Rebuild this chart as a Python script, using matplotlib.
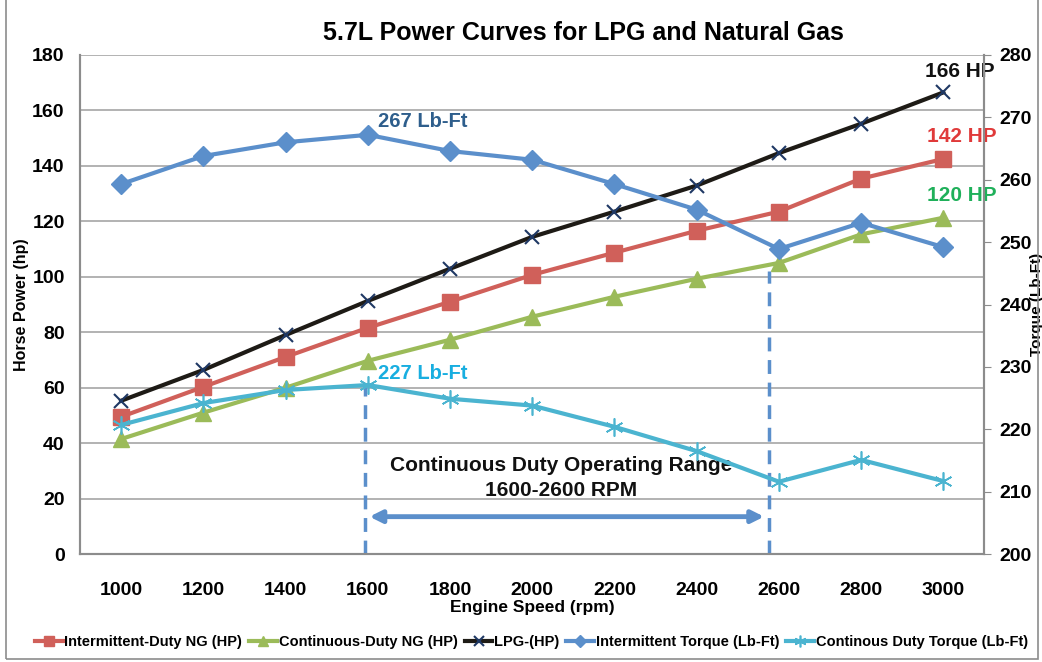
import numpy as np
import matplotlib.pyplot as plt
from matplotlib.patches import Rectangle

plt.rcParams['font.family'] = ['Liberation Sans', 'DejaVu Sans']
plt.rcParams['font.weight'] = 'bold'

# data
rpm = [1000, 1200, 1400, 1600, 1800, 2000, 2200, 2400, 2600, 2800, 3000]
ng_int_hp = [49.5, 60.3, 71.1, 81.6, 91.0, 100.7, 108.7, 116.6, 123.5, 135.4, 142.5]
ng_cont_hp = [41.5, 51.0, 60.0, 69.7, 77.3, 85.6, 92.8, 99.3, 105.0, 115.3, 121.3]
lpg_hp = [55.3, 66.4, 79.0, 91.3, 102.9, 114.4, 123.5, 132.9, 144.6, 155.2, 166.5]
torque_int = [259.3, 263.8, 266.0, 267.2, 264.6, 263.2, 259.3, 255.2, 248.9, 253.1, 249.2]
torque_cont = [220.7, 224.2, 226.3, 227.1, 224.9, 223.8, 220.4, 216.5, 211.6, 215.1, 211.7]

c_red = '#D0605A'
c_green = '#9BBB59'
c_black = '#1E1B16'
c_blue = '#5B8FCB'
c_cyan = '#4BB4D0'

fig = plt.figure(figsize=(10.42, 6.62), dpi=100)
fig.patches.append(Rectangle((0.006, 0.004), 0.99, 1.2, transform=fig.transFigure,
                             fill=False, edgecolor='#8C8C8C', lw=1.2))
ax = fig.add_axes([0.0768, 0.163, 0.868, 0.754])
ax2 = ax.twinx()

x = np.arange(len(rpm))

ax.plot(x, ng_int_hp, color=c_red, lw=3, marker='s', ms=12, zorder=4,
        label='Intermittent-Duty NG (HP)')
ax.plot(x, ng_cont_hp, color=c_green, lw=3, marker='^', ms=12, zorder=3,
        label='Continuous-Duty NG (HP)')
ax.plot(x, lpg_hp, color=c_black, lw=3, marker='x', ms=10, mew=1.5, mec='#1F3864',
        zorder=5, label='LPG-(HP)')
ax2.plot(x, torque_int, color=c_blue, lw=3, marker='D', ms=10, zorder=4,
         label='Intermittent Torque (Lb-Ft)')
ax2.plot(x, torque_cont, color=c_cyan, lw=3, marker=(6, 2, 0), ms=13, mew=1.2,
         zorder=4, label='Continous Duty Torque (Lb-Ft)')

ax.set_xlim(-0.5, len(rpm) - 0.5)
ax.set_ylim(0, 180)
ax.set_yticks(range(0, 181, 20))
ax2.set_ylim(200, 280)
ax2.set_yticks(range(200, 281, 10))
ax.set_xticks(x)
ax.set_xticklabels([str(r) for r in rpm])
ax.grid(axis='y', color='#A6A6A6', lw=1.2)
ax.set_axisbelow(True)

for a in (ax, ax2):
    a.spines['top'].set_visible(False)
    for s in ('left', 'right', 'bottom'):
        a.spines[s].set_color('#8C8C8C')
        a.spines[s].set_linewidth(1.5)
ax.tick_params(axis='y', labelsize=14, length=0, pad=11)
ax.tick_params(axis='x', labelsize=14, length=0, pad=20)
ax2.tick_params(axis='y', labelsize=14, length=5, color='#8C8C8C', pad=6)

ax.set_xlabel('Engine Speed (rpm)', fontsize=12.5, fontweight='bold', labelpad=1)
ax.set_ylabel('Horse Power (hp)', fontsize=11.5, fontweight='bold', labelpad=2)
ax2.set_ylabel('Torque (Lb-Ft)', fontsize=11, fontweight='bold',
               rotation=90, va='center')
ax2.yaxis.set_label_coords(1.058, 0.5)
fig.text(0.56, 0.95, '5.7L Power Curves for LPG and Natural Gas', fontsize=18,
         fontweight='bold', ha='center', va='center')

# operating range markers
i1600 = rpm.index(1600)
i2600 = rpm.index(2600)
ax2.plot([i1600 - 0.04, i1600 - 0.04], [200, torque_cont[i1600]], color=c_blue,
         lw=2.5, ls=(0, (4, 2.5)), zorder=2)
ax.plot([i2600 - 0.12, i2600 - 0.12], [0, ng_cont_hp[i2600] - 3], color=c_blue,
        lw=2.5, ls=(0, (4, 2.5)), zorder=2)
ax.annotate('', xy=(i1600 + 0.02, 13.5), xytext=(i2600 - 0.18, 13.5),
            arrowprops=dict(arrowstyle='<|-|>', color=c_blue, lw=3.5,
                            mutation_scale=18, shrinkA=0, shrinkB=0))
ax.text((i1600 + i2600) / 2 - 0.15, 27.5, 'Continuous Duty Operating Range\n1600-2600 RPM',
        ha='center', va='center', fontsize=15, fontweight='bold',
        linespacing=1.4, color='#111111')

# callouts
ax2.text(i1600 + 0.12, torque_int[i1600] + 0.6, '267 Lb-Ft', color='#2E5E8C',
         fontsize=14.5, fontweight='bold', va='bottom')
ax2.text(i1600 + 0.12, torque_cont[i1600] + 0.3, '227 Lb-Ft', color='#18AEE0',
         fontsize=14.5, fontweight='bold', va='bottom')
ax.text(x[-1] + 0.2, lpg_hp[-1] + 4, '166 HP', color='#111111', fontsize=15,
        fontweight='bold', ha='center', va='bottom')
ax.text(x[-1] + 0.22, ng_int_hp[-1] + 4.5, '142 HP', color='#E03A3A', fontsize=15,
        fontweight='bold', ha='center', va='bottom')
ax.text(x[-1] + 0.22, ng_cont_hp[-1] + 4.5, '120 HP', color='#1FB05A', fontsize=15,
        fontweight='bold', ha='center', va='bottom')

h1, l1 = ax.get_legend_handles_labels()
h2, l2 = ax2.get_legend_handles_labels()
leg = fig.legend(h1 + h2, l1 + l2, loc='center', bbox_to_anchor=(0.51, 0.03),
                 ncol=5, frameon=False, handlelength=1.9, handletextpad=0.1,
                 columnspacing=0.5, markerscale=0.65,
                 prop={'weight': 'bold', 'size': 10.5})

fig.savefig('out.png', dpi=100)
